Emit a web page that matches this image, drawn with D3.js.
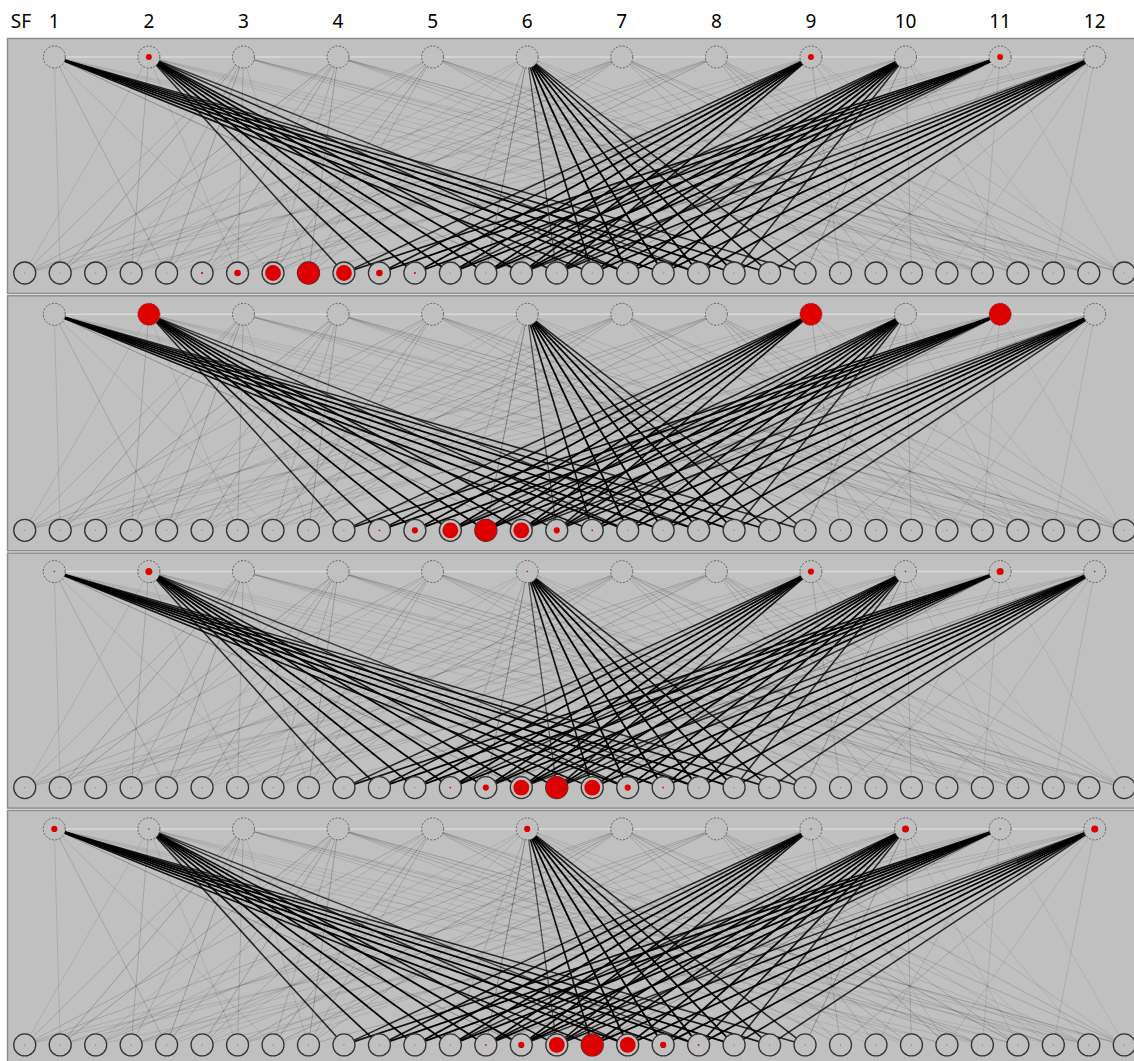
<!DOCTYPE html>
<html><head><meta charset="utf-8">
<script src="https://cdn.jsdelivr.net/npm/d3@7"></script>
<style>body{margin:0;background:#fff}svg{display:block}</style>
</head><body>
<svg id="c" width="1134" height="1061"></svg>
<script>
// ---- data ----
const sfLabels = ["1","2","3","4","5","6","7","8","9","10","11","12"];
const nUnits = 32;
// links: [sf index, bottom unit index, weight]
const strongLinks = [
  [0,16,0.9],[0,17,1],[0,18,1],[0,19,1],[0,20,1],[0,21,0.9],[0,22,0.8],
  [1,9,0.8],[1,10,0.9],[1,11,1],[1,12,1],[1,13,1],[1,14,1],[1,15,0.9],[1,17,0.8],[1,19,0.7],
  [5,15,0.6],[5,16,0.9],[5,17,1],[5,18,1],[5,19,1],[5,20,1],[5,21,0.9],[5,22,0.8],
  [8,9,0.8],[8,10,0.9],[8,11,1],[8,12,1],[8,13,1],[8,14,1],[8,15,0.9],
  [9,12,0.8],[9,13,0.9],[9,14,1],[9,15,1],[9,16,1],[9,17,1],[9,18,1],[9,19,0.9],[9,20,0.8],
  [10,9,0.9],[10,10,1],[10,11,1],[10,12,1],[10,13,1],[10,14,1],[10,15,0.8],
  [11,14,0.8],[11,15,0.9],[11,16,1],[11,17,1],[11,18,1],[11,19,1],[11,20,0.9],[11,21,0.8]
];
const weakLinks = [
  [0,1,0.15],[0,4,0.2],[0,7,0.15],[0,25,0.12],[0,27,0.15],[0,29,0.12],[0,14,0.3],
  [1,0,0.15],[1,3,0.2],[1,6,0.15],[1,24,0.12],[1,26,0.15],[1,28,0.12],[1,30,0.12],
  [2,0,0.2],[2,1,0.25],[2,3,0.2],[2,4,0.25],[2,6,0.2],[2,8,0.15],[2,26,0.15],[2,28,0.2],[2,30,0.2],[2,31,0.15],
  [3,1,0.25],[3,2,0.15],[3,4,0.2],[3,5,0.25],[3,7,0.2],[3,8,0.25],[3,25,0.15],[3,27,0.2],[3,29,0.2],[3,31,0.25],
  [4,0,0.2],[4,2,0.15],[4,5,0.2],[4,7,0.25],[4,8,0.2],[4,23,0.2],[4,25,0.15],[4,27,0.2],[4,29,0.2],[4,30,0.15],
  [5,13,0.35],[5,12,0.2],[5,2,0.15],[5,5,0.15],[5,8,0.15],[5,24,0.15],[5,27,0.15],[5,30,0.15],
  [6,0,0.2],[6,2,0.2],[6,4,0.15],[6,6,0.25],[6,8,0.2],[6,23,0.2],[6,25,0.2],[6,28,0.25],[6,30,0.15],[6,31,0.2],
  [7,1,0.2],[7,3,0.2],[7,5,0.15],[7,7,0.25],[7,24,0.2],[7,26,0.25],[7,28,0.2],[7,29,0.15],[7,31,0.2],
  [8,0,0.15],[8,3,0.15],[8,6,0.2],[8,23,0.2],[8,26,0.15],[8,29,0.12],[8,31,0.15],
  [9,1,0.15],[9,4,0.15],[9,7,0.15],[9,22,0.3],[9,25,0.2],[9,28,0.15],[9,30,0.12],
  [10,0,0.15],[10,3,0.15],[10,6,0.2],[10,16,0.3],[10,24,0.15],[10,27,0.15],[10,31,0.12],
  [11,2,0.15],[11,5,0.15],[11,8,0.2],[11,13,0.3],[11,23,0.2],[11,26,0.15],[11,29,0.15]
];
// activations (0..1) of top SF units, one row per panel
const sfAct1 = [0,0.27,0,0,0,0,0,0,0.27,0,0.27,0];
const sfAct2 = [0,1,0,0,0,0,0,0,1,0,1,0];
const sfAct3 = [0.07,0.32,0,0,0,0.07,0,0,0.28,0.07,0.32,0.07];
const sfAct4 = [0.28,0.07,0,0,0,0.28,0,0,0.07,0.32,0.07,0.32];
// activations of the 32 bottom units per panel
const low = 0.05;
const unitAct1 = [low,low,low,low,low,0.1,0.3,0.72,1,0.72,0.3,0.1,low,low,low,low,low,low,low,low,low,low,low,low,low,low,low,low,low,low,low,low];
const unitAct2 = [low,low,low,low,low,low,low,low,low,low,0.08,0.28,0.72,1,0.72,0.28,0.08,low,low,low,low,low,low,low,low,low,low,low,low,low,low,low];
const unitAct3 = [low,low,low,low,low,low,low,low,low,low,low,low,0.08,0.28,0.72,1,0.72,0.28,0.08,low,low,low,low,low,low,low,low,low,low,low,low,low];
const unitAct4 = [low,low,low,low,low,low,low,low,low,low,low,low,low,0.08,0.28,0.72,1,0.72,0.28,0.08,low,low,low,low,low,low,low,low,low,low,low,low];

const panels = [
  {sf: sfAct1, unit: unitAct1},
  {sf: sfAct2, unit: unitAct2},
  {sf: sfAct3, unit: unitAct3},
  {sf: sfAct4, unit: unitAct4}
];

// ---- layout ----
const svg = d3.select("#c");
const x0 = 7, x1 = 1142;
const panelTop0 = 38, panelStep = 257.3, panelH = 255;
const topOff = 19, botOff = 235, R = 11;
const bg = "#c0c0c0", red = "#dd0000";

const xTop = d3.scaleBand().domain(d3.range(12)).range([x0, x1]);
const xBot = d3.scaleBand().domain(d3.range(nUnits)).range([x0, x1]);
const cTop = i => xTop(i) + xTop.bandwidth()/2;
const cBot = j => xBot(j) + xBot.bandwidth()/2;
const rScale = d3.scaleLinear().domain([0,1]).range([0,R]);
const wScale = d3.scaleLinear().domain([0,1]).range([0.5,1.8]);

// header labels
svg.append("text").attr("x", 21).attr("y", 28).attr("text-anchor","middle")
  .attr("font-family","Noto Sans, Open Sans, sans-serif").attr("font-size",19).text("SF");
svg.selectAll("text.sf").data(sfLabels).join("text").attr("class","sf")
  .attr("x",(d,i)=>cTop(i)).attr("y",28).attr("text-anchor","middle")
  .attr("font-family","Noto Sans, Open Sans, sans-serif").attr("font-size",19).text(d=>d);

const allLinks = weakLinks.concat(strongLinks);

panels.forEach((p, k) => {
  const top = panelTop0 + k*panelStep;
  const g = svg.append("g").attr("transform", `translate(0,${top})`);
  g.append("rect").attr("x", x0+0.5).attr("y", 0.5).attr("width", x1-x0).attr("height", panelH)
    .attr("fill", bg).attr("stroke", "#8c8c8c").attr("stroke-width", 1.5);
  // faint row line
  g.append("line").attr("x1", cTop(0)).attr("x2", cTop(11)).attr("y1", topOff).attr("y2", topOff)
    .attr("stroke", "#dadada").attr("stroke-width", 1.5);
  // links
  g.selectAll("line.lk").data(allLinks).join("line").attr("class","lk")
    .attr("x1", d=>cTop(d[0])).attr("y1", topOff)
    .attr("x2", d=>cBot(d[1])).attr("y2", botOff)
    .attr("stroke", "#000").attr("stroke-opacity", d=>d[2])
    .attr("stroke-width", d=>wScale(d[2]));
  // top nodes
  g.selectAll("circle.tn").data(p.sf).join("circle").attr("class","tn")
    .attr("cx",(d,i)=>cTop(i)).attr("cy", topOff).attr("r", R)
    .attr("fill", bg).attr("stroke","#555").attr("stroke-width",0.9).attr("stroke-dasharray","2,1.5");
  g.selectAll("circle.tr").data(p.sf).join("circle").attr("class","tr")
    .attr("cx",(d,i)=>cTop(i)).attr("cy", topOff).attr("r", d=>rScale(d))
    .attr("fill", red);
  // bottom nodes
  g.selectAll("circle.bn").data(p.unit).join("circle").attr("class","bn")
    .attr("cx",(d,i)=>cBot(i)).attr("cy", botOff).attr("r", R)
    .attr("fill", bg).attr("stroke","#333").attr("stroke-width",1.3);
  g.selectAll("circle.br").data(p.unit).join("circle").attr("class","br")
    .attr("cx",(d,i)=>cBot(i)).attr("cy", botOff).attr("r", d=>Math.max(0.6, rScale(d)))
    .attr("fill", red).attr("fill-opacity", d=> d<0.06 ? 0.6 : 1);
});
</script>
</body></html>
